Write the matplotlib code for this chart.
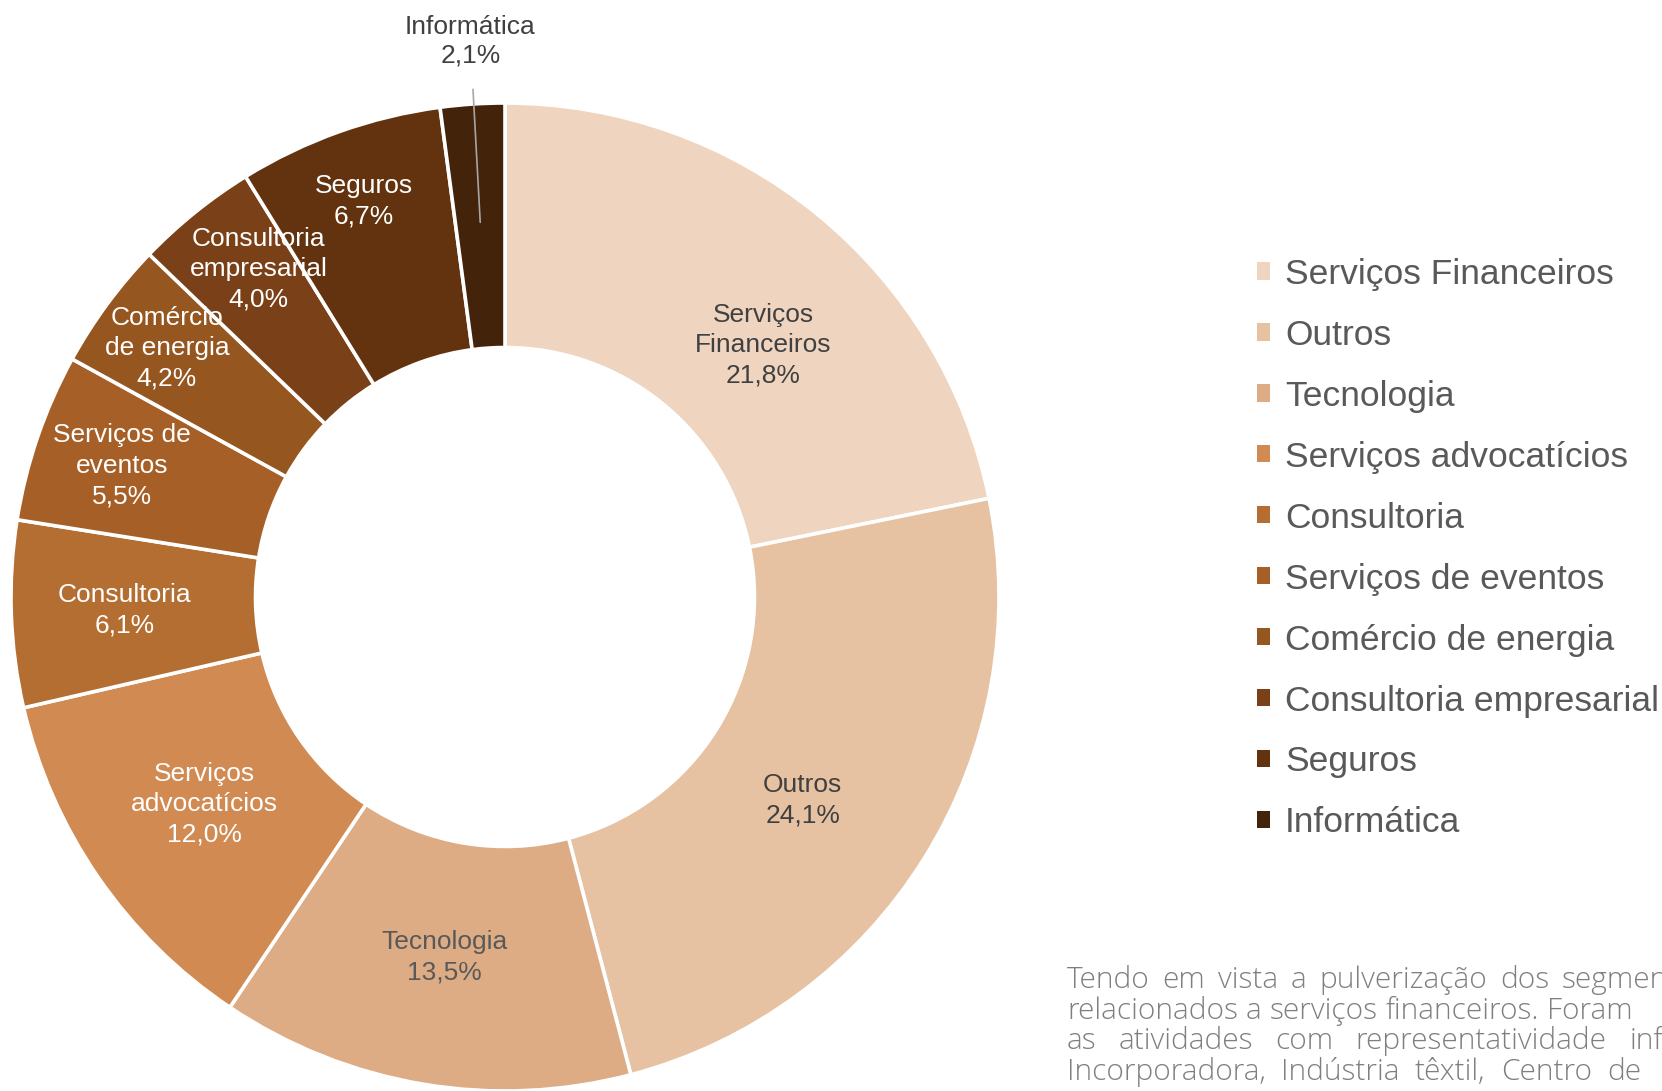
import numpy as np
import matplotlib.pyplot as plt
from matplotlib.patches import Patch

# segmentos e participacao (%)
segmentos = ['Serviços Financeiros', 'Outros', 'Tecnologia', 'Serviços advocatícios',
             'Consultoria', 'Serviços de eventos', 'Comércio de energia',
             'Consultoria empresarial', 'Seguros', 'Informática']
rotulos = ['Serviços\nFinanceiros', 'Outros', 'Tecnologia', 'Serviços\nadvocatícios',
           'Consultoria', 'Serviços de\neventos', 'Comércio\nde energia',
           'Consultoria\nempresarial', 'Seguros', 'Informática']
valores = [21.8, 24.1, 13.5, 12.0, 6.1, 5.5, 4.2, 4.0, 6.7, 2.1]

cores = ['#EFD5BF', '#E6C2A3', '#DDAC84', '#D08A52', '#B46E32',
         '#A65F27', '#955620', '#7A4118', '#62330E', '#43230A']
cor_texto = ['#404040', '#404040', '#595959', 'white', 'white',
             'white', 'white', 'white', 'white', '#404040']
# posicao dos rotulos: fracao do raio externo e desvio angular (graus)
dist_rotulo = [0.73, 0.73, 0.74, 0.74, 0.77, 0.82, 0.85, 0.83, 0.85, None]
desvio_ang = [-6.5, -2.5, 0, 0, 0, 0, 0, -2.0, 0, 0]

# nota lateral (linhas justificadas; a ultima palavra de cada linha
# comeca na posicao x indicada, em pixels)
nota = [('Tendo em vista a pulverização dos segmentos', 1562),
        ('relacionados a serviços financeiros. Foram', 1547),
        ('as atividades com representatividade inferior', 1629),
        ('Incorporadora, Indústria têxtil, Centro de', 1607)]

W, H = 1662, 1091
fig = plt.figure(figsize=(W / 100, H / 100), dpi=100)
ax = fig.add_axes([0.0066, 0.0, 0.5945, 0.9056])

wedges, _ = ax.pie(valores, colors=cores, startangle=90, counterclock=False,
                   radius=1.0,
                   wedgeprops=dict(width=0.495, edgecolor='white', linewidth=2.6))
ax.set_xlim(-1, 1)
ax.set_ylim(-1, 1)
ax.set_aspect('equal')
ax.axis('off')

def fmt(v):
    return f'{v:.1f}'.replace('.', ',') + '%'

acum = 0.0
for i, v in enumerate(valores):
    ang = np.deg2rad(90 - (acum + v / 2) * 3.6 + desvio_ang[i])
    acum += v
    txt = rotulos[i] + '\n' + fmt(v)
    if dist_rotulo[i] is None:
        # fatia pequena: rotulo fora com linha de chamada
        x0, y0 = 0.76 * np.cos(ang), 0.76 * np.sin(ang)
        ax.annotate(txt, xy=(x0, y0), xytext=(x0 - 0.02, 1.125),
                    ha='center', va='center', fontsize=19, color=cor_texto[i],
                    family='Liberation Sans', linespacing=1.2,
                    annotation_clip=False,
                    arrowprops=dict(arrowstyle='-', color='#A6A6A6', lw=1.2,
                                    shrinkA=14, shrinkB=0))
        continue
    r = dist_rotulo[i]
    ax.text(r * np.cos(ang), r * np.sin(ang), txt, ha='center', va='center',
            fontsize=19, color=cor_texto[i], family='Liberation Sans',
            linespacing=1.34)

handles = [Patch(facecolor=c, edgecolor='none') for c in cores]
leg = fig.legend(handles, segmentos, loc='center left', bbox_to_anchor=(0.7563, 0.4972),
                 frameon=False, handlelength=0.37, handleheight=0.37,
                 handletextpad=0.42, labelspacing=0.79, borderpad=0, borderaxespad=0,
                 prop={'family': 'Liberation Sans', 'size': 25.5})
for t in leg.get_texts():
    t.set_color('#595959')

# nota: cada palavra posicionada para justificar a linha
renderer = fig.canvas.get_renderer()
x_ini, base0, passo = 1067, 988, 30.7
estilo = dict(fontsize=21.5, color='#7F7F7F', family='Open Sans', fontweight='light',
              va='baseline', ha='left')
for k, (linha, x_ult) in enumerate(nota):
    palavras = linha.split()
    y = 1 - (base0 + k * passo) / H
    larg = []
    for p in palavras[:-1]:
        t = fig.text(0, 0, p, **estilo)
        larg.append(t.get_window_extent(renderer).width)
        t.remove()
    gap = (x_ult - x_ini - sum(larg)) / (len(palavras) - 1)
    x = x_ini
    for j, p in enumerate(palavras):
        fig.text(x / W, y, p, **estilo)
        if j < len(larg):
            x += larg[j] + gap

fig.savefig('out.png', dpi=100, facecolor='white')
